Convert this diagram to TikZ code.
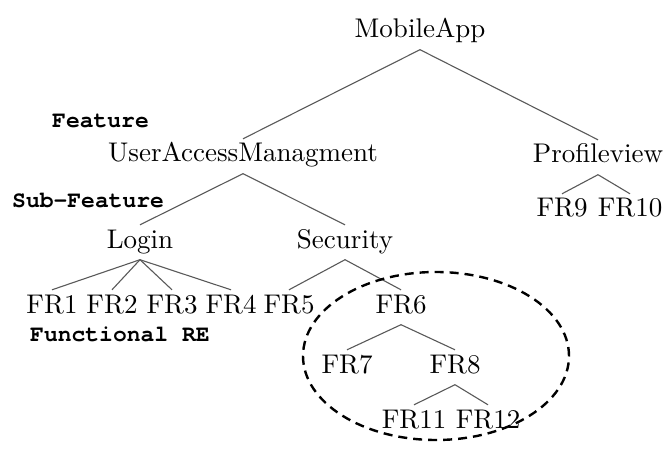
\documentclass[tikz,border=0pt]{standalone}
\usepackage{fontspec}
\usetikzlibrary{shapes.geometric}
\setmainfont{lmroman10-regular.otf}
\newfontfamily\labelfont{texgyrecursor-bold.otf}
\begin{document}
\begin{tikzpicture}[x=1pt,y=-1pt,
  tn/.style={anchor=base,font=\fontsize{27}{32}\selectfont,text height=18.5pt,text depth=7pt,inner ysep=4.5pt,inner xsep=0pt},
  lbl/.style={anchor=base west,font=\labelfont\fontsize{23}{26}\selectfont,inner sep=0pt},
  edge/.style={draw=black!65,line width=1.1pt},
  region/.style={draw=black,line width=2.4pt,dash pattern=on 9pt off 6pt}]
\useasboundingbox (0,0) rectangle (666,454);
\node[tn] (root) at (420,38) {MobileApp};
\node[tn] (uam) at (243,162) {UserAccessManagment};
\node[tn] (pv) at (598,163) {Profileview};
\node[tn] (login) at (140,248) {Login};
\node[tn] (sec) at (345,248) {Security};
\node[tn] (fr1) at (52,313) {FR1};
\node[tn] (fr2) at (112,313) {FR2};
\node[tn] (fr3) at (172,313) {FR3};
\node[tn] (fr4) at (231,313) {FR4};
\node[tn] (fr5) at (289,313) {FR5};
\node[tn] (fr6) at (401,313) {FR6};
\node[tn] (fr7) at (347,373) {FR7};
\node[tn] (fr8) at (455,373) {FR8};
\node[tn] (fr11) at (414,428) {FR11};
\node[tn] (fr12) at (488,428) {FR12};
\node[tn] (fr9) at (562,217) {FR9};
\node[tn] (fr10) at (630,217) {FR10};
\node[lbl] (lfeat) at (52,128) {Feature};
\node[lbl] (lsub) at (12,208) {Sub-Feature};
\node[lbl] (lfun) at (30,341) {Functional RE};
\draw[edge] (root.south) -- (uam.north);
\draw[edge] (root.south) -- (pv.north);
\draw[edge] (uam.south) -- (login.north);
\draw[edge] (uam.south) -- (sec.north);
\draw[edge] (login.south) -- (fr1.north);
\draw[edge] (login.south) -- (fr2.north);
\draw[edge] (login.south) -- (fr3.north);
\draw[edge] (login.south) -- (fr4.north);
\draw[edge] (sec.south) -- (fr5.north);
\draw[edge] (sec.south) -- (fr6.north);
\draw[edge] (fr6.south) -- (fr7.north);
\draw[edge] (fr6.south) -- (fr8.north);
\draw[edge] (fr8.south) -- (fr11.north);
\draw[edge] (fr8.south) -- (fr12.north);
\draw[edge] (pv.south) -- (fr9.north);
\draw[edge] (pv.south) -- (fr10.north);
\node[region,ellipse,minimum width=266pt,minimum height=168pt,inner sep=0pt] (grp) at (436,356) {};
\end{tikzpicture}
\end{document}
